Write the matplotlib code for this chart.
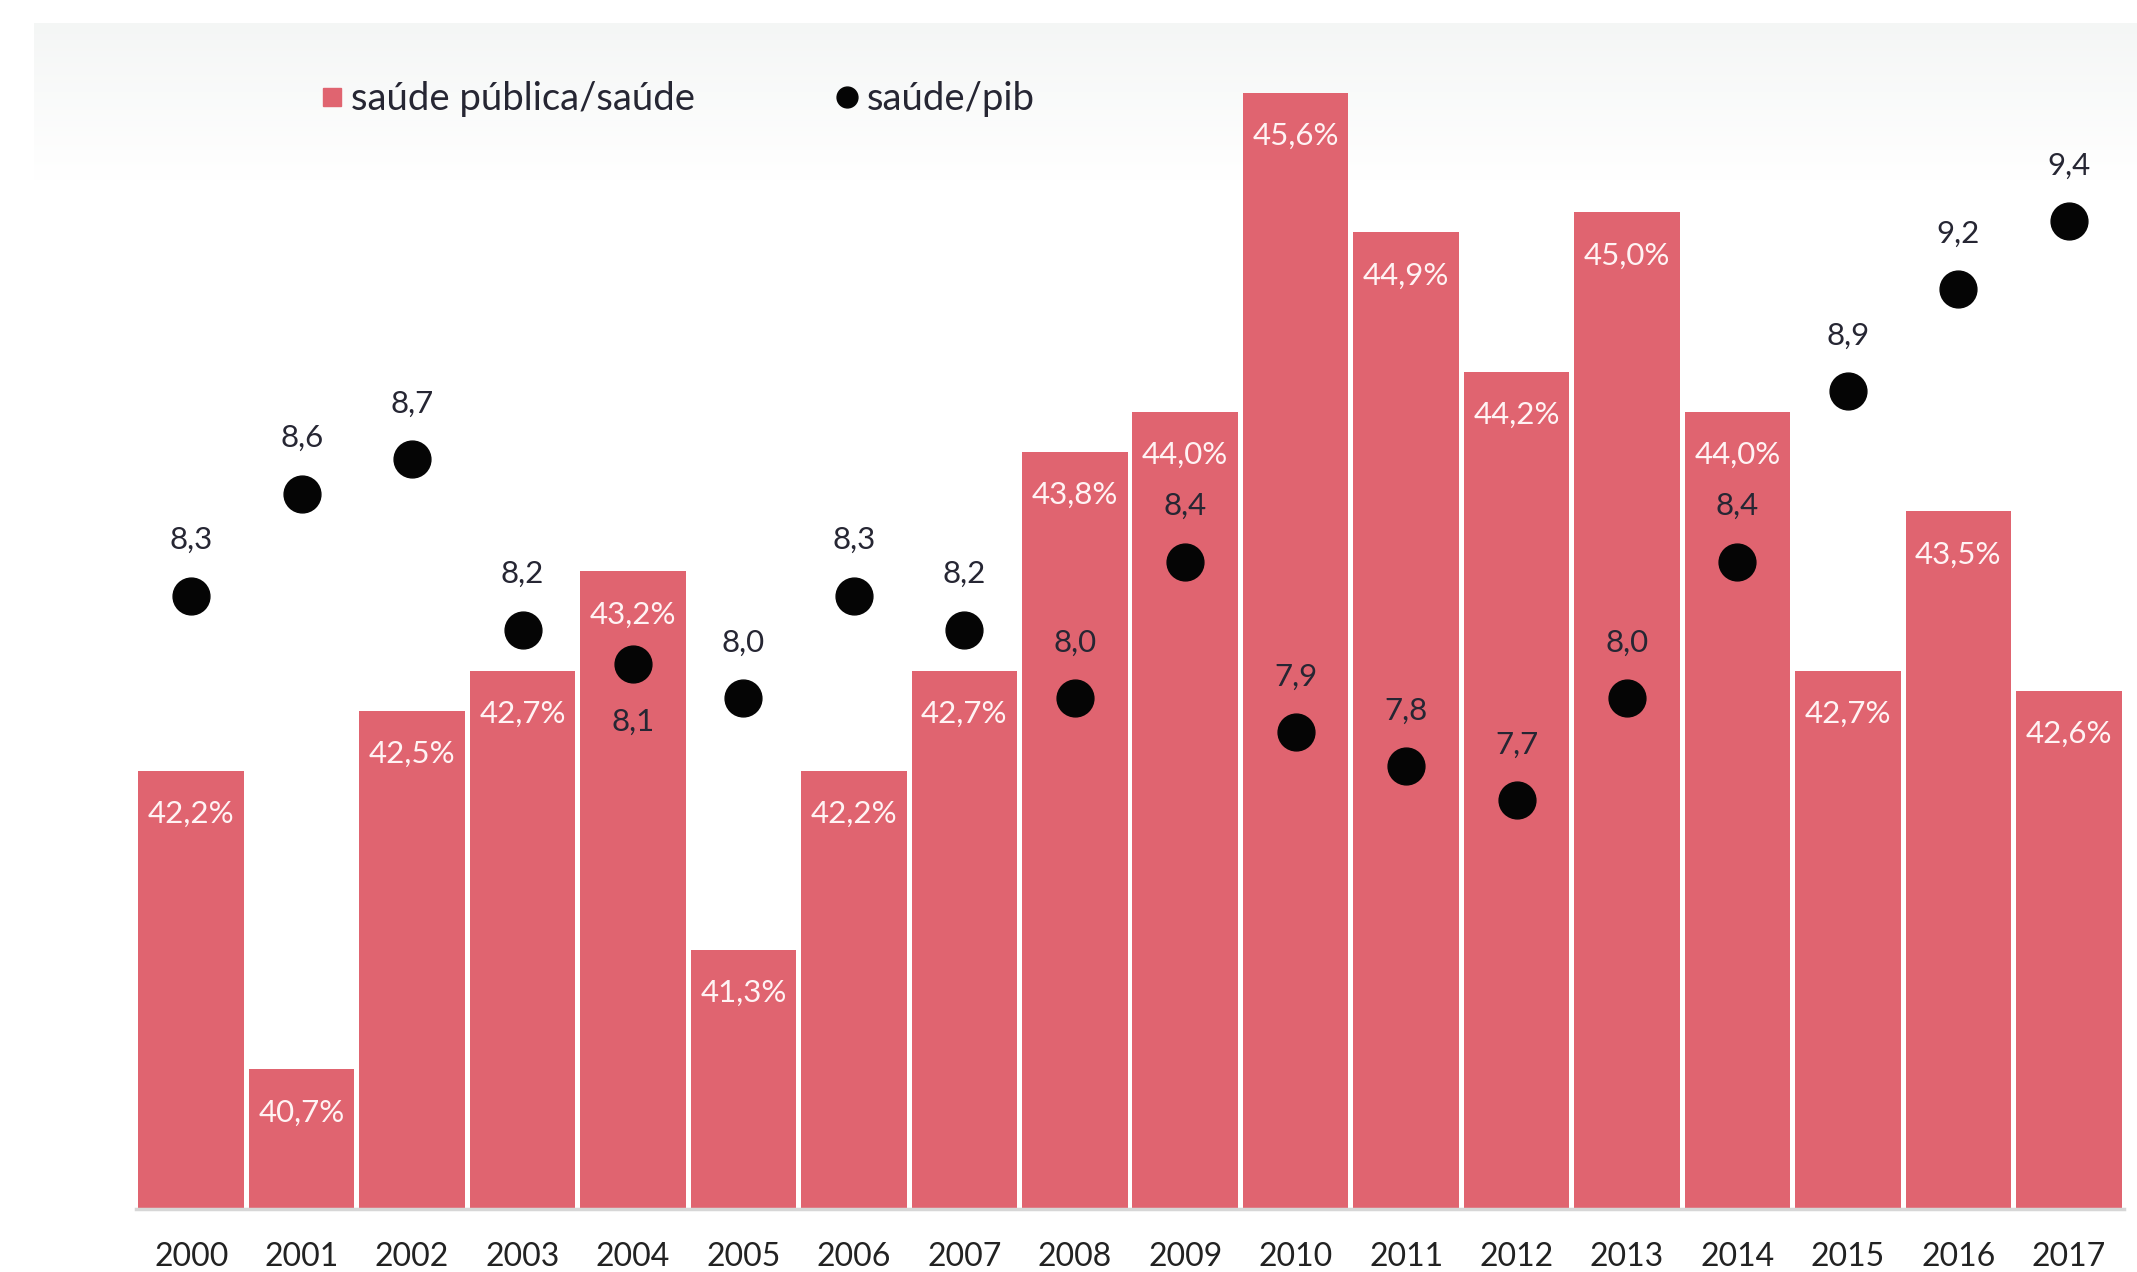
import matplotlib
matplotlib.use("Agg")
import matplotlib.pyplot as plt
import numpy as np
from matplotlib.lines import Line2D

plt.rcParams['font.family'] = ['Lato', 'DejaVu Sans']

years = ['2000', '2001', '2002', '2003', '2004', '2005', '2006', '2007', '2008',
         '2009', '2010', '2011', '2012', '2013', '2014', '2015', '2016', '2017']
publica_saude = [42.2, 40.7, 42.5, 42.7, 43.2, 41.3, 42.2, 42.7, 43.8,
                 44.0, 45.6, 44.9, 44.2, 45.0, 44.0, 42.7, 43.5, 42.6]
saude_pib = [8.3, 8.6, 8.7, 8.2, 8.1, 8.0, 8.3, 8.2, 8.0,
             8.4, 7.9, 7.8, 7.7, 8.0, 8.4, 8.9, 9.2, 9.4]
label_below = ['2004']

BAR_COLOR = '#E06470'
DOT_COLOR = '#050505'
TXT_DARK = '#262633'

W, H = 2137, 1272
fig = plt.figure(figsize=(W / 100, H / 100), dpi=100)

# soft gray band at the top
bg = fig.add_axes([34 / W, 1 - 180 / H, 1 - 34 / W, 157 / H], zorder=0)
grad = np.linspace(0, 1, 256)[:, None]
c0 = np.array([0.958, 0.965, 0.962])
c1 = np.array([1.0, 1.0, 1.0])
img = c0[None, None, :] * (1 - grad[:, :, None]) + c1[None, None, :] * grad[:, :, None]
img = np.repeat(img, 4, axis=1)
bg.imshow(img, aspect='auto', extent=[0, 1, 0, 1], origin='upper')
bg.axis('off')

left, right = 136 / W, 2124 / W
bottom_px, top_px = 1209, 30
ax = fig.add_axes([left, 1 - bottom_px / H, right - left, (bottom_px - top_px) / H], zorder=1)
ax.patch.set_alpha(0)
x = np.arange(len(years))
ax.bar(x, publica_saude, width=0.955, color=BAR_COLOR, zorder=2)
ax.set_xlim(-0.5, len(years) - 0.5)
ax.set_ylim(40.0, 40.0 + (bottom_px - top_px) / 199.3)
ax.set_yticks([])
ax.set_xticks(x)
ax.set_xticklabels(years, fontsize=23, color='#222222')
ax.tick_params(axis='x', length=0, pad=24)
for s in ['top', 'left', 'right']:
    ax.spines[s].set_visible(False)
ax.spines['bottom'].set_color('#D6D6D6')
ax.spines['bottom'].set_linewidth(2.5)

for xi, v in zip(x, publica_saude):
    ax.annotate(f"{v:.1f}%".replace('.', ','), (xi, v), xytext=(0, -31),
                textcoords='offset points', ha='center', va='center',
                fontsize=22.5, color='#FFF3F4', zorder=3)

ax2 = ax.twinx()
ax2.set_ylim(6.5, 6.5 + (bottom_px - top_px) / 340.7)
ax2.plot(x, saude_pib, linestyle='none', marker='o', markersize=26.5,
         color=DOT_COLOR, zorder=4)
ax2.set_yticks([])
for s in ['top', 'left', 'right', 'bottom']:
    ax2.spines[s].set_visible(False)
for xi, yr, v in zip(x, years, saude_pib):
    dy = -42 if yr in label_below else 40
    ax2.annotate(f"{v:.1f}".replace('.', ','), (xi, v), xytext=(0, dy),
                 textcoords='offset points', ha='center', va='center',
                 fontsize=22.5, color=TXT_DARK, zorder=5)

handles = [
    Line2D([], [], linestyle='none', marker='s', markersize=13, color=BAR_COLOR),
    Line2D([], [], linestyle='none', marker='o', markersize=15, color=DOT_COLOR),
]
fig.legend(handles, ['saúde pública/saúde', 'saúde/pib'], loc='center left',
           bbox_to_anchor=(322 / W, 1 - 99 / H), ncol=2, frameon=False,
           fontsize=27.5, handlelength=0.5, handletextpad=0.25, columnspacing=3.75,
           labelcolor='#262633', borderpad=0, borderaxespad=0)

fig.savefig('out.png', dpi=100)
